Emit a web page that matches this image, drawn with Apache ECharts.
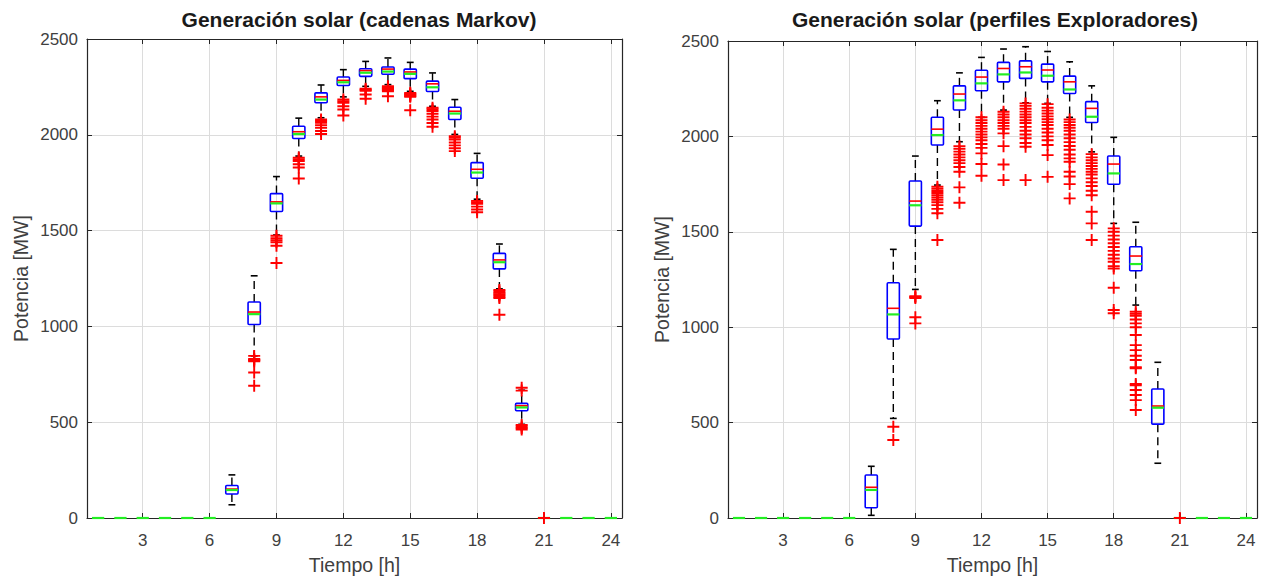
<!DOCTYPE html>
<html>
<head>
<meta charset="utf-8">
<script src="https://cdn.jsdelivr.net/npm/echarts@6/dist/echarts.min.js"></script>
<style>
html,body{margin:0;padding:0;background:#fff;}
#box{width:1261px;height:580px;}
</style>
</head>
<body>
<div id="box"></div>
<script>
// horas del dia y marcas del eje
var horas = [1,2,3,4,5,6,7,8,9,10,11,12,13,14,15,16,17,18,19,20,21,22,23,24];
var ticksHora = [3,6,9,12,15,18,21,24];

// Generacion solar (cadenas Markov): bigote inf, Q1, mediana, media, Q3, bigote sup
var markovMin  = [0,0,0,0,0,0, 69, 846,1477,1889,2089,2198,2253,2262,2227,2149,2002,1664,1196,489,0,0,0,0];
var markovQ1   = [0,0,0,0,0,0,125,1010,1600,1981,2167,2257,2305,2316,2293,2226,2080,1773,1300,560,0,0,0,0];
var markovMed  = [0,0,0,0,0,0,151,1075,1650,2016,2198,2284,2335,2343,2328,2266,2123,1820,1347,586,0,0,0,0];
var markovMean = [0,0,0,0,0,0,146,1064,1642,2004,2184,2274,2324,2330,2318,2248,2111,1803,1335,577,0,0,0,0];
var markovQ3   = [0,0,0,0,0,0,170,1127,1693,2045,2219,2302,2345,2354,2343,2280,2144,1855,1381,598,0,0,0,0];
var markovMax  = [0,0,0,0,0,0,225,1264,1782,2087,2260,2340,2383,2401,2378,2323,2184,1903,1430,667,0,0,0,0];
var markovOut = [
  [8,846],[8,830],[8,826],[8,822],[8,818],[8,759],[8,690],
  [9,1473],[9,1460],[9,1450],[9,1439],[9,1421],[9,1331],
  [10,1881],[10,1872],[10,1863],[10,1846],[10,1829],[10,1772],
  [11,2080],[11,2072],[11,2063],[11,2050],[11,2036],[11,2020],[11,2004],
  [12,2184],[12,2175],[12,2167],[12,2149],[12,2132],[12,2101],
  [13,2240],[13,2235],[13,2230],[13,2210],[13,2188],
  [14,2253],[14,2248],[14,2244],[14,2240],[14,2236],[14,2232],[14,2227],[14,2201],
  [15,2219],[15,2215],[15,2210],[15,2206],[15,2202],[15,2198],[15,2128],
  [16,2141],[16,2133],[16,2124],[16,2110],[16,2095],[16,2080],[16,2062],[16,2042],
  [17,1993],[17,1985],[17,1975],[17,1960],[17,1945],[17,1930],[17,1915],
  [18,1655],[18,1648],[18,1640],[18,1625],[18,1610],[18,1596],
  [19,1190],[19,1182],[19,1175],[19,1168],[19,1162],[19,1155],[19,1148],[19,1061],
  [20,680],[20,665],[20,485],[20,478],[20,470],[20,462],
  [21,0]
];

// Generacion solar (perfiles Exploradores)
var explMin  = [0,0,0,0,0,0, 14, 522,1198,1745,1972,2100,2138,2176,2173,2100,1919,1544,1116,287,0,0,0,0];
var explQ1   = [0,0,0,0,0,0, 54, 938,1530,1955,2138,2239,2286,2304,2286,2225,2073,1749,1296,492,0,0,0,0];
var explMed  = [0,0,0,0,0,0,161,1099,1661,2038,2222,2311,2356,2365,2348,2286,2147,1855,1373,587,0,0,0,0];
var explMean = [0,0,0,0,0,0,147,1067,1639,2007,2189,2278,2325,2335,2318,2246,2103,1806,1331,578,0,0,0,0];
var explQ3   = [0,0,0,0,0,0,225,1233,1766,2100,2265,2347,2388,2396,2379,2316,2182,1897,1422,676,0,0,0,0];
var explMax  = [0,0,0,0,0,0,271,1408,1897,2187,2333,2414,2458,2470,2445,2391,2265,1995,1550,816,0,0,0,0];
var explOut = [
  [8,478],[8,409],
  [9,1163],[9,1158],[9,1153],[9,1052],[9,1020],
  [10,1736],[10,1725],[10,1714],[10,1703],[10,1692],[10,1680],[10,1668],[10,1655],[10,1640],[10,1620],[10,1597],[10,1457],
  [11,1949],[11,1935],[11,1920],[11,1905],[11,1890],[11,1875],[11,1860],[11,1840],[11,1815],[11,1733],[11,1652],
  [12,2100],[12,2085],[12,2070],[12,2055],[12,2040],[12,2025],[12,2010],[12,1995],[12,1980],[12,1960],[12,1940],[12,1911],[12,1855],[12,1794],
  [13,2129],[13,2115],[13,2100],[13,2085],[13,2070],[13,2055],[13,2040],[13,2016],[13,1949],[13,1853],[13,1771],
  [14,2173],[14,2160],[14,2145],[14,2130],[14,2115],[14,2100],[14,2085],[14,2070],[14,2050],[14,2030],[14,2010],[14,1990],[14,1965],[14,1946],[14,1771],
  [15,2169],[15,2150],[15,2135],[15,2120],[15,2105],[15,2090],[15,2075],[15,2060],[15,2040],[15,2020],[15,2000],[15,1980],[15,1955],[15,1902],[15,1788],
  [16,2089],[16,2075],[16,2060],[16,2045],[16,2030],[16,2010],[16,1990],[16,1970],[16,1950],[16,1930],[16,1905],[16,1885],[16,1867],[16,1815],[16,1790],[16,1750],[16,1675],
  [17,1907],[17,1890],[17,1875],[17,1860],[17,1845],[17,1830],[17,1815],[17,1800],[17,1780],[17,1760],[17,1740],[17,1715],[17,1692],[17,1605],[17,1544],[17,1457],
  [18,1518],[18,1500],[18,1480],[18,1460],[18,1440],[18,1420],[18,1400],[18,1380],[18,1360],[18,1343],[18,1320],[18,1308],[18,1207],[18,1090],[18,1073],
  [19,1081],[19,1070],[19,1060],[19,1040],[19,1020],[19,1000],[19,959],[19,906],[19,880],[19,850],[19,828],[19,790],[19,785],[19,702],[19,695],[19,671],[19,645],[19,618],[19,566],
  [21,0]
];

var fuente = 'Liberation Sans, Arial, Helvetica, sans-serif';
var colorEje = '#262626';
var colorTexto = '#404040';
var mas = 'path://M0,4.2H10V5.8H0ZM4.2,0H5.8V10H4.2Z';

function cajas(mn, q1, med, media, q3, mx) {
    return horas.map(function (h, i) {
        return [h, mn[i], q1[i], med[i], media[i], q3[i], mx[i]];
    });
}

function dibujaCaja(params, api) {
    var h = api.value(0);
    var ancho = api.size([0.55, 0])[0];
    var px = api.coord([h, 0])[0];
    function py(v) { return api.coord([h, v])[1]; }
    var yLo = py(api.value(1)), yQ1 = py(api.value(2)), yMed = py(api.value(3));
    var yMean = py(api.value(4)), yQ3 = py(api.value(5)), yHi = py(api.value(6));
    var hijos = [];
    if (api.value(6) - api.value(1) > 1) {
        var raya = {stroke: '#000', lineWidth: 1.4, lineDash: [8, 5]};
        var tope = {stroke: '#000', lineWidth: 1.6};
        var c = ancho * 0.28;
        hijos.push(
            {type: 'line', shape: {x1: px, y1: yQ3, x2: px, y2: yHi}, style: raya},
            {type: 'line', shape: {x1: px, y1: yQ1, x2: px, y2: yLo}, style: raya},
            {type: 'line', shape: {x1: px - c, y1: yHi, x2: px + c, y2: yHi}, style: tope},
            {type: 'line', shape: {x1: px - c, y1: yLo, x2: px + c, y2: yLo}, style: tope},
            {type: 'rect', shape: {x: px - ancho / 2, y: yQ3, width: ancho, height: yQ1 - yQ3, r: 1},
                style: {fill: 'none', stroke: '#0000ff', lineWidth: 1.6}},
            {type: 'line', shape: {x1: px - ancho / 2, y1: yMed, x2: px + ancho / 2, y2: yMed},
                style: {stroke: '#ff0000', lineWidth: 1.6}}
        );
    }
    hijos.push({type: 'line', shape: {x1: px - ancho / 2, y1: yMean, x2: px + ancho / 2, y2: yMean},
        style: {stroke: '#22ee22', lineWidth: 2.2}});
    return {type: 'group', children: hijos};
}

function ejesX(g) {
    return [{
        type: 'value', gridIndex: g, min: 0.5, max: 24.5, position: 'bottom',
        name: 'Tiempo [h]', nameLocation: 'middle', nameGap: 37,
        nameTextStyle: {fontFamily: fuente, fontSize: 19.5, color: colorTexto},
        axisLine: {onZero: false, lineStyle: {color: colorEje, width: 1.2}},
        axisTick: {inside: true, length: 5, customValues: ticksHora, lineStyle: {color: colorEje}},
        axisLabel: {customValues: ticksHora, margin: 14, fontFamily: fuente, fontSize: 17, color: colorTexto},
        splitLine: {show: true, customValues: ticksHora, lineStyle: {color: '#dcdcdc', width: 1}}
    }, {
        type: 'value', gridIndex: g, min: 0.5, max: 24.5, position: 'top',
        axisLine: {onZero: false, lineStyle: {color: colorEje, width: 1.2}},
        axisTick: {inside: true, length: 5, customValues: ticksHora, lineStyle: {color: colorEje}},
        axisLabel: {show: false},
        splitLine: {show: false}
    }];
}

function ejesY(g) {
    return [{
        type: 'value', gridIndex: g, min: 0, max: 2500, interval: 500, position: 'left',
        name: 'Potencia [MW]', nameLocation: 'middle', nameGap: 56, nameRotate: 90,
        nameTextStyle: {fontFamily: fuente, fontSize: 19.5, color: colorTexto},
        axisLine: {show: true, onZero: false, lineStyle: {color: colorEje, width: 1.2}},
        axisTick: {show: true, inside: true, length: 5, lineStyle: {color: colorEje}},
        axisLabel: {margin: 9, fontFamily: fuente, fontSize: 17, color: colorTexto,
            formatter: function (v) { return String(v); }},
        splitLine: {show: true, lineStyle: {color: '#dcdcdc', width: 1}}
    }, {
        type: 'value', gridIndex: g, min: 0, max: 2500, interval: 500, position: 'right',
        axisLine: {show: true, onZero: false, lineStyle: {color: colorEje, width: 1.2}},
        axisTick: {show: true, inside: true, length: 5, lineStyle: {color: colorEje}},
        axisLabel: {show: false},
        splitLine: {show: false}
    }];
}

var mychart = echarts.init(document.getElementById('box'), null, {renderer: 'svg'});
var option = {
    backgroundColor: '#fff',
    animation: false,
    title: [{
        text: 'Generación solar (cadenas Markov)', left: 359, top: 9, textAlign: 'center', padding: 0,
        textStyle: {fontFamily: fuente, fontSize: 21, fontWeight: 'bold', color: '#1a1a1a'}
    }, {
        text: 'Generación solar (perfiles Exploradores)', left: 995, top: 9, textAlign: 'center', padding: 0,
        textStyle: {fontFamily: fuente, fontSize: 21, fontWeight: 'bold', color: '#1a1a1a'}
    }],
    grid: [
        {left: 87, top: 39, width: 535, height: 481},
        {left: 728, top: 41, width: 529, height: 477}
    ],
    xAxis: ejesX(0).concat(ejesX(1)),
    yAxis: ejesY(0).concat(ejesY(1)),
    series: [{
        type: 'custom', xAxisIndex: 0, yAxisIndex: 0, renderItem: dibujaCaja, silent: true,
        encode: {x: 0, y: [1, 6]},
        data: cajas(markovMin, markovQ1, markovMed, markovMean, markovQ3, markovMax)
    }, {
        type: 'scatter', xAxisIndex: 0, yAxisIndex: 0, symbol: mas, symbolSize: 12, silent: true,
        itemStyle: {color: '#ff0000', opacity: 1}, z: 5,
        data: markovOut
    }, {
        type: 'custom', xAxisIndex: 2, yAxisIndex: 2, renderItem: dibujaCaja, silent: true,
        encode: {x: 0, y: [1, 6]},
        data: cajas(explMin, explQ1, explMed, explMean, explQ3, explMax)
    }, {
        type: 'scatter', xAxisIndex: 2, yAxisIndex: 2, symbol: mas, symbolSize: 12, silent: true,
        itemStyle: {color: '#ff0000', opacity: 1}, z: 5,
        data: explOut
    }]
};
mychart.setOption(option);
</script>
</body>
</html>
